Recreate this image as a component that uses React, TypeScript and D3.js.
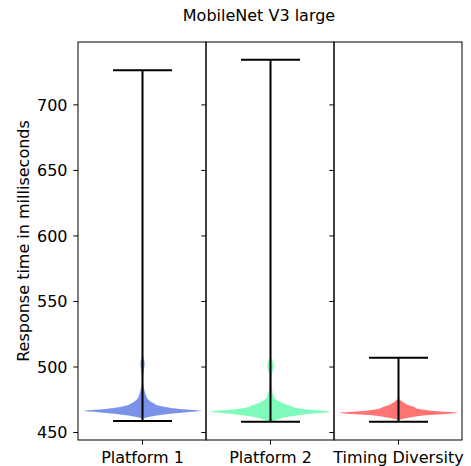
import React from "react";
import * as d3 from "d3";

const title = "MobileNet V3 large";
const yLabel = "Response time in milliseconds";
const categories = ["Platform 1", "Platform 2", "Timing Diversity"];
const colors = ["#7a93e8", "#7ffcbc", "#ff7373"];
const mins = [458.8, 458.2, 458.2];
const maxs = [726.5, 734.5, 507];
const yTicks = [450, 500, 550, 600, 650, 700];

// density profiles: [value ms, relative half-width]
const profile1: [number, number][] = [
  [460.5, 0], [462, 0.12], [464, 0.4], [465.5, 0.75], [466.6, 1.0], [468, 0.62], [470, 0.32],
  [472.5, 0.18], [475, 0.1], [478, 0.06], [481, 0.04], [485, 0.02], [490, 0.01],
  [494, 0.012], [498, 0.025], [502, 0.035], [505, 0.03], [508, 0.01], [512, 0.003], [726.5, 0],
];
const profile2: [number, number][] = [
  [458.5, 0], [460, 0.12], [462, 0.3], [464, 0.6], [465.9, 1.0], [467.5, 0.65], [469, 0.42],
  [471, 0.3], [473, 0.18], [475, 0.1], [478, 0.05], [482, 0.03], [487, 0.018], [492, 0.015],
  [496, 0.03], [500, 0.05], [503, 0.045], [506, 0.025], [509, 0.006], [520, 0.002], [734.5, 0],
];
const profile3: [number, number][] = [
  [459.5, 0], [461, 0.14], [463, 0.42], [465.1, 1.0], [466.5, 0.6], [468, 0.35], [469.7, 0.25],
  [471, 0.16], [472.5, 0.1], [474, 0.05], [475.5, 0.015], [480, 0.006], [490, 0.003], [507, 0],
];
const profiles = [profile1, profile2, profile3];

const W = 471;
const H = 466;
const left = 78;
const right = 462;
const top = 42;
const bottom = 440;
const panelW = (right - left) / 3;
const font = "DejaVu Sans, sans-serif";
const fs = 16;
const tickLen = 4.7;

export default function App() {
  const y = d3.scaleLinear().domain([444.3, 748]).range([bottom, top]);
  const panelX = (i: number) => left + i * panelW;
  const maxHalf = 59;
  const capHalf = 29.5;

  return (
    <svg width={W} height={H} style={{ position: "fixed", left: 0, top: 0, background: "#fff" }}>
      <text x={259} y={21} textAnchor="middle" fontFamily={font} fontSize={fs}>
        {title}
      </text>
      <text
        transform={`translate(28.5,${(top + bottom) / 2}) rotate(-90)`}
        textAnchor="middle"
        fontFamily={font}
        fontSize={fs}
      >
        {yLabel}
      </text>
      {categories.map((cat, i) => {
        const x0 = panelX(i);
        const cx = x0 + panelW / 2 + 0.5;
        const xs = d3.scaleLinear().domain([-1, 1]).range([cx - maxHalf, cx + maxHalf]);
        const area = d3
          .area<[number, number]>()
          .y((d) => y(d[0]))
          .x0((d) => xs(-d[1]))
          .x1((d) => xs(d[1]))
          .curve(d3.curveMonotoneY);
        return (
          <g key={cat}>
            <path d={area(profiles[i]) || ""} fill={colors[i]} stroke="none" />
            <line x1={cx} x2={cx} y1={y(mins[i])} y2={y(maxs[i])} stroke="#000" strokeWidth={2} />
            <line x1={cx - capHalf} x2={cx + capHalf} y1={y(mins[i])} y2={y(mins[i])} stroke="#000" strokeWidth={2} />
            <line x1={cx - capHalf} x2={cx + capHalf} y1={y(maxs[i])} y2={y(maxs[i])} stroke="#000" strokeWidth={2} />
            <rect x={x0} y={top} width={panelW} height={bottom - top} fill="none" stroke="#000" strokeWidth={1} />
            {yTicks.map((t) => (
              <line key={t} x1={x0 - tickLen} x2={x0} y1={y(t)} y2={y(t)} stroke="#000" strokeWidth={1} />
            ))}
            <line x1={cx} x2={cx} y1={bottom} y2={bottom + tickLen} stroke="#000" strokeWidth={1} />
            <text x={cx} y={bottom + 23} textAnchor="middle" fontFamily={font} fontSize={fs}>
              {cat}
            </text>
          </g>
        );
      })}
      {yTicks.map((t) => (
        <text key={t} x={left - 10.5} y={y(t) + 5.8} textAnchor="end" fontFamily={font} fontSize={fs}>
          {t}
        </text>
      ))}
    </svg>
  );
}
